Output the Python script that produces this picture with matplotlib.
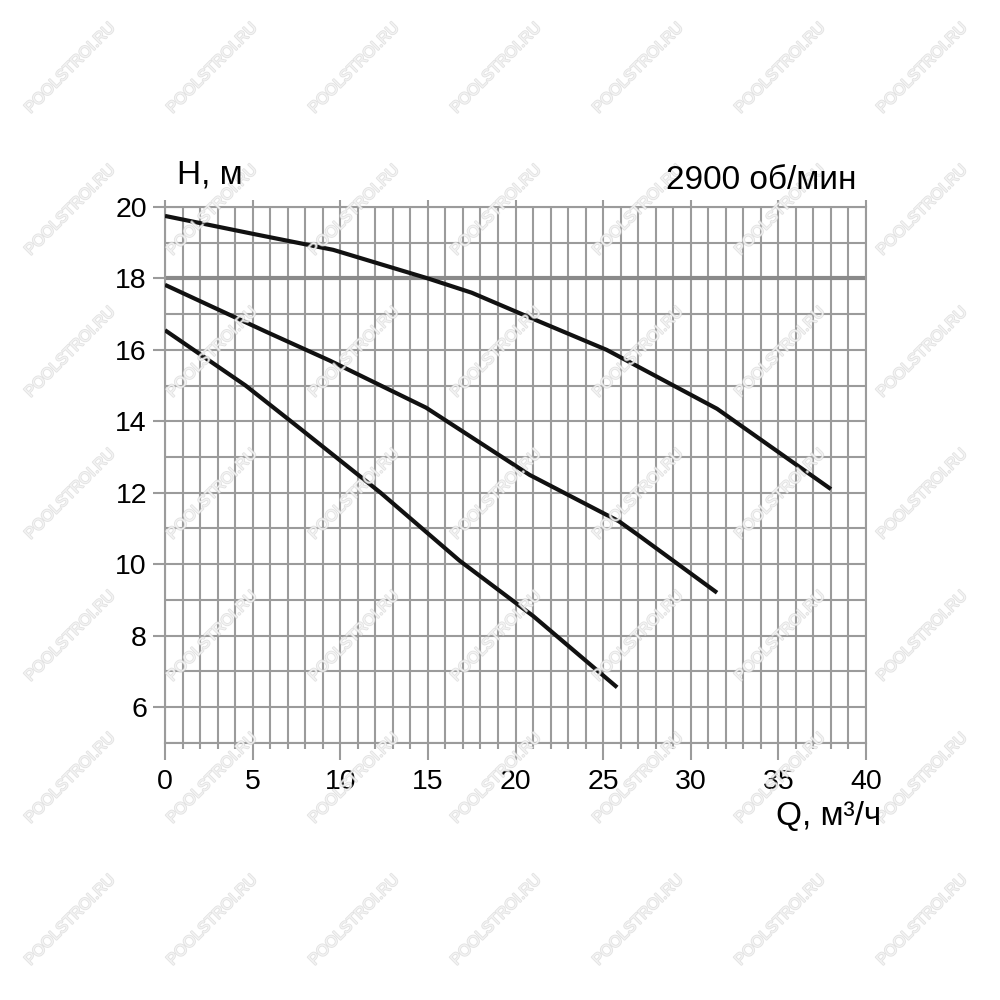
import numpy as np
import matplotlib.pyplot as plt
from matplotlib import patheffects as pe

# Pump curves (Q in m3/h, H in m)
Q_TOP = [0, 5, 9.6, 15, 17.5, 20.6, 25.2, 31.5, 38.0]
H_TOP = [19.75, 19.25, 18.8, 18.0, 17.6, 16.95, 16.0, 14.35, 12.1]
Q_MID = [0, 5.8, 9.4, 14.9, 20.8, 25.9, 26.9, 31.5]
H_MID = [17.82, 16.5, 15.7, 14.38, 12.5, 11.2, 10.85, 9.2]
Q_LOW = [0, 4.6, 7.7, 12.3, 16.8, 21.0, 25.8]
H_LOW = [16.55, 15.0, 13.8, 12.0, 10.1, 8.55, 6.55]

X_TICKS = [0, 5, 10, 15, 20, 25, 30, 35, 40]
Y_TICKS = [6, 8, 10, 12, 14, 16, 18, 20]

GRID = "#9b9b9b"
FONT = "Liberation Sans"


def main():
    plt.rcParams["font.family"] = [FONT, "DejaVu Sans"]
    fig = plt.figure(figsize=(10, 10), dpi=100, facecolor="white")
    ax = fig.add_axes([0.165, 0.2573, 0.701, 0.5357])

    ax.set_xlim(0, 40)
    ax.set_ylim(5, 20)

    # fine grid every 1 unit
    ax.set_xticks(X_TICKS)
    ax.set_xticks(np.arange(0, 41, 1), minor=True)
    ax.set_yticks(Y_TICKS)
    ax.set_yticks(np.arange(5, 21, 1), minor=True)
    ax.grid(True, which="both", color=GRID, lw=1.5, zorder=1)
    ax.set_axisbelow(True)

    ax.tick_params(axis="x", which="major", length=12, width=1.5, color=GRID,
                   labelsize=20.5, pad=7, top=True)
    ax.tick_params(axis="x", which="minor", length=4, width=1.5, color=GRID)
    ax.tick_params(axis="y", which="major", length=9, width=1.5, color=GRID,
                   labelsize=20.5, pad=4)
    ax.tick_params(axis="y", which="minor", length=0)
    ax.xaxis.set_tick_params(which="major", top=True, labeltop=False)
    for t in ax.xaxis.get_major_ticks():
        t.tick2line.set_markersize(5)

    for s in ax.spines.values():
        s.set_color(GRID)
        s.set_linewidth(1.5)

    # darker line at 18 m
    ax.axhline(18, color="#8a8a8a", lw=3, zorder=1.5)

    for q, h in [(Q_TOP, H_TOP), (Q_MID, H_MID), (Q_LOW, H_LOW)]:
        ax.plot(q, h, color="#111111", lw=3.0, solid_capstyle="butt", zorder=3)

    # watermark (under the labels, over the grid)
    for cx in np.arange(70, 1000, 142):
        for cy in np.arange(68, 1000, 142):
            fig.text(cx / 1000, 1 - cy / 1000, "POOLSTROI.RU", fontsize=11.5,
                     rotation=45, ha="center", va="center", color="white",
                     alpha=0.6, zorder=1,
                     path_effects=[pe.withStroke(linewidth=1.2, foreground="#cfcfcf")])

    fig.text(0.177, 0.817, "H, м", fontsize=24, ha="left", va="baseline", zorder=5)
    fig.text(0.857, 0.811, "2900 об/мин", fontsize=24, ha="right", va="baseline", zorder=5)
    fig.text(0.881, 0.175, "Q, м³/ч", fontsize=24, ha="right", va="baseline", zorder=5)

    fig.savefig("out.png", dpi=100, facecolor="white")


if __name__ == "__main__":
    main()
